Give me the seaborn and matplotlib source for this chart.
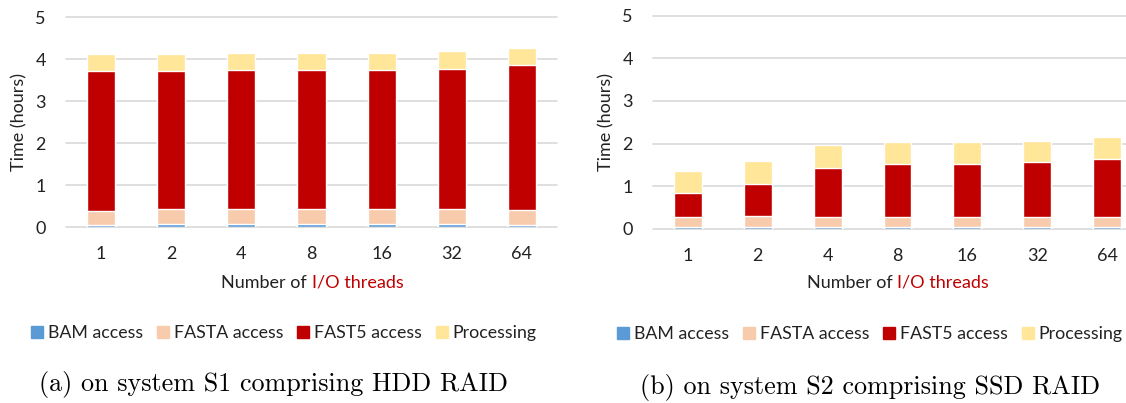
import matplotlib
matplotlib.use("Agg")
import matplotlib.pyplot as plt
import matplotlib.patches as mpatches
import numpy as np
import pandas as pd
import seaborn as sns

# Data (hours)
threads = ["1", "2", "4", "8", "16", "32", "64"]
components = ["BAM access", "FASTA access", "FAST5 access", "Processing"]
colors = ["#5B9BD5", "#F8CBAD", "#C00000", "#FFE699"]

s1_bam = [0.05, 0.07, 0.07, 0.07, 0.07, 0.07, 0.05]
s1_fasta = [0.33, 0.35, 0.36, 0.35, 0.36, 0.36, 0.36]
s1_fast5 = [3.34, 3.30, 3.31, 3.31, 3.30, 3.34, 3.44]
s1_proc = [0.41, 0.41, 0.41, 0.42, 0.42, 0.41, 0.41]

s2_bam = [0.03, 0.03, 0.03, 0.03, 0.03, 0.03, 0.03]
s2_fasta = [0.245, 0.26, 0.245, 0.245, 0.245, 0.245, 0.245]
s2_fast5 = [0.57, 0.75, 1.15, 1.24, 1.25, 1.28, 1.36]
s2_proc = [0.50, 0.54, 0.53, 0.52, 0.52, 0.51, 0.52]

captions = ["(a) on system S1 comprising HDD RAID",
            "(b) on system S2 comprising SSD RAID"]

sns.set_theme(style="white")
plt.rcParams["font.family"] = ["Lato", "DejaVu Sans"]
text_color = "#222222"
grid_color = "#D9D9D9"
fs = 13


def stacked_panel(ax, parts):
    """
       Draws stacked bars by overlaying cumulative totals, top layer first
    """
    df = pd.DataFrame(dict(zip(components, parts)), index=threads)
    cum = df.cumsum(axis=1)
    for comp, col in reversed(list(zip(components, colors))):
        sns.barplot(x=threads, y=cum[comp].values, color=col, width=0.40,
                    saturation=1, ax=ax, zorder=3)
    ax.set_ylim(0, 5)
    ax.set_xlim(-0.5, 6.5)
    ax.set_yticks(range(6))
    ax.yaxis.grid(True, color=grid_color, linewidth=1.2, zorder=0)
    for gl in ax.get_ygridlines():
        gl.set_clip_on(False)
    for sp in ax.spines.values():
        sp.set_visible(False)
    ax.tick_params(axis="both", length=0, labelsize=fs, colors=text_color)
    ax.tick_params(axis="y", pad=14.5)
    ax.tick_params(axis="x", pad=14)
    ax.set_ylabel("Time (hours)", fontsize=fs, color=text_color)
    ax.yaxis.set_label_coords(-0.079, 0.5)
    ax.set_xlabel("")


fig = plt.figure(figsize=(11.26, 4.03), dpi=100)
ax1 = fig.add_axes([0.0586, 0.4367, 0.4361, 0.5211])
ax2 = fig.add_axes([0.5799, 0.4325, 0.4343, 0.5285])

stacked_panel(ax1, [s1_bam, s1_fasta, s1_fast5, s1_proc])
stacked_panel(ax2, [s2_bam, s2_fasta, s2_fast5, s2_proc])

handles = [mpatches.Patch(color=c, label=l) for c, l in zip(colors, components)]
for ax, lx, ly, cx, cy, cap in [
    (ax1, 0.2522, 0.1737, 0.2433, 0.0447, captions[0]),
    (ax2, 0.7726, 0.1710, 0.7726, 0.0397, captions[1]),
]:
    # x label with "I/O threads" in red, split at the axes centre
    mx = ax.get_position().x0 + ax.get_position().width / 2
    fig.text(mx, 1 - 283 / 403, "Number of ", ha="right", va="center",
             fontsize=fs, color=text_color)
    fig.text(mx, 1 - 283 / 403, "I/O threads", ha="left", va="center",
             fontsize=fs, color="#C00000")
    fig.legend(handles=handles, loc="center", ncol=4, frameon=False,
               bbox_to_anchor=(lx, ly), fontsize=12.8,
               handlelength=0.67, handleheight=0.67, handletextpad=0.28,
               columnspacing=0.78, labelcolor=text_color)
    fig.text(cx, cy, cap, ha="center", va="center",
             fontsize=18.8, family="cmr10", color="black")

fig.savefig("out.png", dpi=100)
